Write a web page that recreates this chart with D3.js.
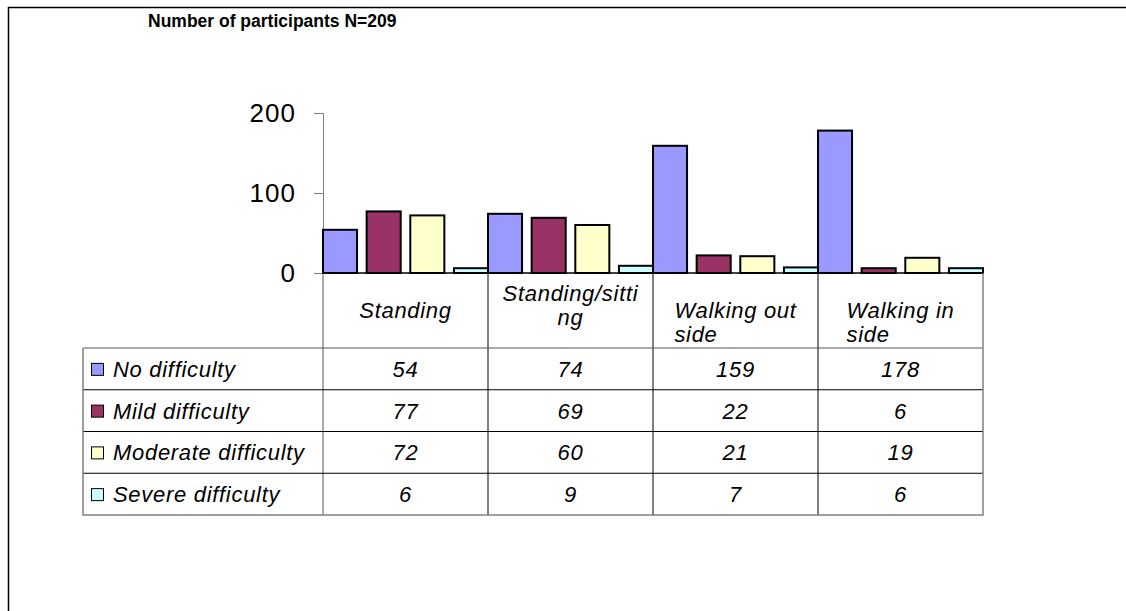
<!DOCTYPE html>
<html>
<head>
<meta charset="utf-8">
<script src="https://cdn.jsdelivr.net/npm/d3@7"></script>
<style>
  body { margin: 0; background: #fff; }
  svg { display: block; font-family: "Liberation Sans", Arial, sans-serif; }
</style>
</head>
<body>
<div id="chart"></div>
<script>
// chart data
const categories = ["Standing", "Standing/sitting", "Walking out side", "Walking in side"];
const categoryLines = [["Standing"], ["Standing/sitti", "ng"], ["Walking out", "side"], ["Walking in", "side"]];
const seriesNames = ["No difficulty", "Mild difficulty", "Moderate difficulty", "Severe difficulty"];
const noDifficulty = [54, 74, 159, 178];
const mildDifficulty = [77, 69, 22, 6];
const moderateDifficulty = [72, 60, 21, 19];
const severeDifficulty = [6, 9, 7, 6];
const yTicks = [0, 100, 200];
const titleText = "Number of participants N=209";

const seriesValues = [noDifficulty, mildDifficulty, moderateDifficulty, severeDifficulty];
const colors = ["#9999ff", "#993366", "#ffffcc", "#ccffff"];

const W = 1126, H = 611;
const plotLeft = 323, plotRight = 983, plotTop = 113, plotBottom = 273;
const tableLeft = 83, headerBottom = 348, rowH = 41.75;
const tableBottom = headerBottom + rowH * seriesNames.length;

const svg = d3.select("#chart").append("svg").attr("width", W).attr("height", H);

// outer frame (runs off the right and bottom of the window)
svg.append("rect")
  .attr("x", 8.5).attr("y", 7.5)
  .attr("width", W + 20).attr("height", H + 20)
  .attr("fill", "none").attr("stroke", "#000").attr("stroke-width", 1.5);

svg.append("text")
  .attr("x", 148).attr("y", 27)
  .attr("font-size", 17.5).attr("font-weight", "bold")
  .text(titleText);

// scales
const x0 = d3.scaleBand().domain(categories).range([plotLeft, plotRight]).padding(0);
const x1 = d3.scaleBand().domain(seriesNames).range([0, x0.bandwidth()]).paddingInner(0.22).paddingOuter(0);
const y = d3.scaleLinear().domain([0, 200]).range([plotBottom, plotTop]);

// y axis
const yAxis = svg.append("g")
  .attr("transform", `translate(${plotLeft},0)`)
  .call(d3.axisLeft(y).tickValues(yTicks).tickSize(9).tickPadding(18));
yAxis.select(".domain").attr("stroke", "#808080");
yAxis.selectAll(".tick line").attr("stroke", "#808080");
yAxis.selectAll(".tick text")
  .attr("font-size", 26).attr("letter-spacing", 1).attr("fill", "#000")
  .attr("font-family", "Liberation Sans, Arial, sans-serif");

// bars
categories.forEach((cat, ci) => {
  seriesNames.forEach((s, si) => {
    const v = seriesValues[si][ci];
    svg.append("rect")
      .attr("x", x0(cat) + x1(s))
      .attr("y", y(v))
      .attr("width", x1.bandwidth())
      .attr("height", y(0) - y(v))
      .attr("fill", colors[si])
      .attr("stroke", "#000")
      .attr("stroke-width", 2);
  });
});

// baseline
svg.append("line")
  .attr("x1", plotLeft).attr("x2", plotRight)
  .attr("y1", plotBottom).attr("y2", plotBottom)
  .attr("stroke", "#000").attr("stroke-width", 1.5);

// data table grid
const grid = svg.append("g").attr("stroke-width", 1);
x0.domain().forEach((cat, ci) => {
  if (ci === 0) return;
  grid.append("line")
    .attr("x1", x0(cat)).attr("x2", x0(cat))
    .attr("y1", plotBottom).attr("y2", tableBottom)
    .attr("stroke", "#000");
});
grid.append("line")
  .attr("x1", plotLeft).attr("x2", plotLeft)
  .attr("y1", plotBottom).attr("y2", tableBottom)
  .attr("stroke", "#555");
for (let r = 0; r < seriesNames.length; r++) {
  const yy = headerBottom + r * rowH;
  grid.append("line")
    .attr("x1", tableLeft).attr("x2", plotRight)
    .attr("y1", yy).attr("y2", yy)
    .attr("stroke", r === 0 ? "#555" : "#000");
}
// outer table border
grid.append("path")
  .attr("d", `M${tableLeft},${headerBottom}V${tableBottom}H${plotRight}V${plotBottom}`)
  .attr("fill", "none").attr("stroke", "#808080").attr("stroke-width", 1.5);

const tableFont = { size: 22, spacing: 0.7 };

// category headers
categories.forEach((cat, ci) => {
  const lines = categoryLines[ci];
  const cx = x0(cat) + x0.bandwidth() / 2;
  const midWord = lines.length > 1 && !cat.includes(lines[0] + " ");
  const g = svg.append("g")
    .attr("font-size", tableFont.size).attr("font-style", "italic")
    .attr("letter-spacing", tableFont.spacing);
  if (lines.length === 1) {
    g.append("text").attr("x", cx).attr("y", 318).attr("text-anchor", "middle").text(lines[0]);
  } else if (midWord) {
    lines.forEach((l, li) => {
      g.append("text").attr("x", cx).attr("y", 301 + li * 24).attr("text-anchor", "middle").text(l);
    });
  } else {
    const first = g.append("text").attr("x", cx).attr("y", 318).attr("text-anchor", "middle").text(lines[0]);
    const left = cx - first.node().getComputedTextLength() / 2;
    lines.slice(1).forEach((l, li) => {
      g.append("text").attr("x", left).attr("y", 318 + (li + 1) * 24).text(l);
    });
  }
});

// legend rows and values
seriesNames.forEach((s, si) => {
  const rowTop = headerBottom + si * rowH;
  const base = rowTop + rowH / 2 + 8;
  svg.append("rect")
    .attr("x", 91.5).attr("y", rowTop + rowH / 2 - 5.5)
    .attr("width", 12).attr("height", 12)
    .attr("fill", colors[si]).attr("stroke", "#000").attr("stroke-width", 1);
  svg.append("text")
    .attr("x", 113).attr("y", base)
    .attr("font-size", tableFont.size).attr("font-style", "italic")
    .attr("letter-spacing", tableFont.spacing)
    .text(s);
  categories.forEach((cat, ci) => {
    svg.append("text")
      .attr("x", x0(cat) + x0.bandwidth() / 2).attr("y", base)
      .attr("text-anchor", "middle")
      .attr("font-size", tableFont.size).attr("font-style", "italic")
      .attr("letter-spacing", tableFont.spacing)
      .text(seriesValues[si][ci]);
  });
});
</script>
</body>
</html>
